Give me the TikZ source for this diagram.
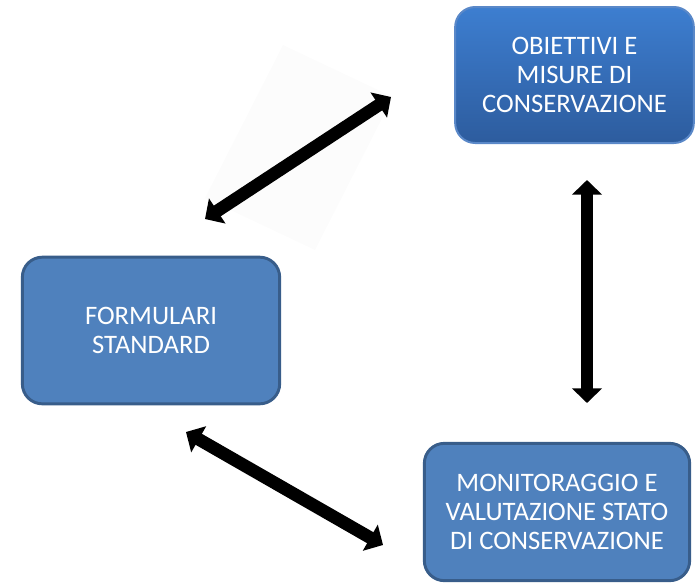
\documentclass[tikz,border=0pt]{standalone}
\usepackage{fontspec}
\setmainfont{Carlito}
\usepackage{xcolor}
\usetikzlibrary{arrows.meta, positioning, calc}

\definecolor{boxfill}{HTML}{4F81BD}
\definecolor{boxline}{HTML}{385D8A}
\definecolor{gradtop}{HTML}{3D7ED0}
\definecolor{gradbot}{HTML}{2D5C9E}
\definecolor{gradline}{HTML}{5A88C8}

\begin{document}
\begin{tikzpicture}[x=0.75pt, y=-0.75pt,
    every node/.style={align=center, text=white, font=\fontsize{20}{22}\selectfont},
    box/.style={rounded corners=15pt, fill=boxfill, draw=boxline, line width=2.2pt},
    gradbox/.style={rounded corners=15pt, top color=gradtop, bottom color=gradbot, draw=gradline, line width=1.5pt},
    dblarrow/.style={line width=9.5pt, {Triangle[width=22pt,length=11pt]}-{Triangle[width=22pt,length=11pt]}}]
    \useasboundingbox (0,0) rectangle (696,583);
    \fill[black!1.2] (283,45) -- (393,97) -- (315,250) -- (205,198) -- cycle;
    \node[gradbox, minimum width=179pt, minimum height=102pt] (obiettivi) at (574.5,75)
        {OBIETTIVI E\\MISURE DI\\CONSERVAZIONE};
    \node[box, minimum width=193pt, minimum height=110pt] (formulari) at (151,330.5)
        {FORMULARI\\STANDARD};
    \node[box, minimum width=199pt, minimum height=103pt] (monitoraggio) at (557,512)
        {MONITORAGGIO E\\VALUTAZIONE STATO\\DI CONSERVAZIONE};
    \coordinate (ta1) at (205,219);
    \coordinate (ta2) at (391,97);
    \coordinate (va1) at (587,180);
    \coordinate (va2) at (587,403);
    \coordinate (ba1) at (186,432);
    \coordinate (ba2) at (383,545);
    \draw[dblarrow] (ta1) -- (ta2);
    \draw[dblarrow] (va1) -- (va2);
    \draw[dblarrow] (ba1) -- (ba2);
\end{tikzpicture}
\end{document}
